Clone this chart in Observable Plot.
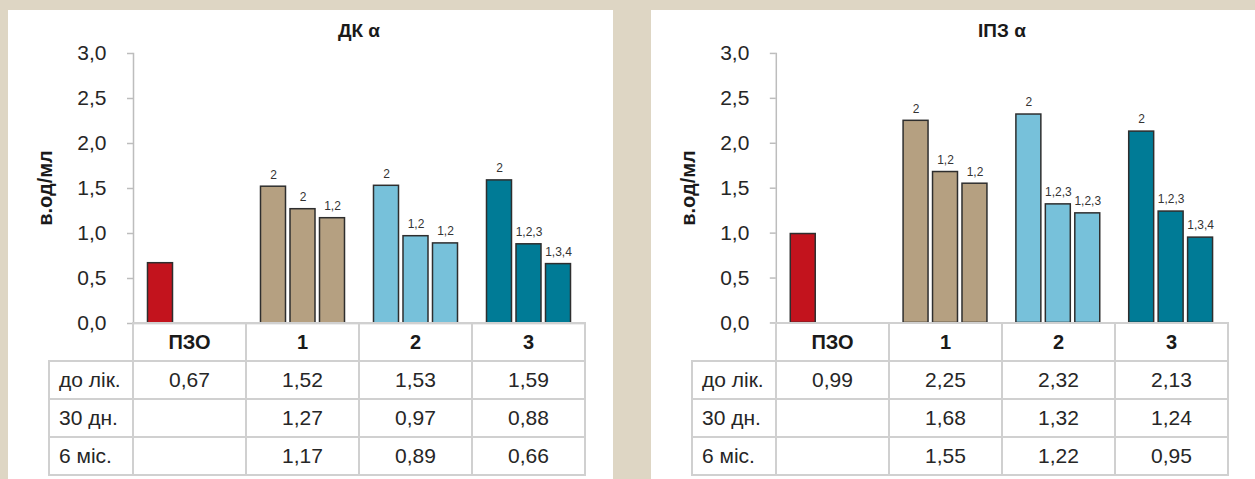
<!DOCTYPE html>
<html><head><meta charset="utf-8">
<script src="https://cdn.jsdelivr.net/npm/d3@7"></script>
<script src="https://cdn.jsdelivr.net/npm/@observablehq/plot@0.6"></script>
<style>
html,body{margin:0;padding:0;background:#ded6c4;width:1255px;height:479px;overflow:hidden;font-family:"Liberation Sans",Arial,sans-serif;}
.panel{position:absolute;top:10px;height:469px;background:#fff;overflow:hidden;}
.title{position:absolute;top:11px;text-align:center;font-weight:bold;font-size:19px;line-height:20px;color:#1a1a1a;}
.ylab{position:absolute;width:200px;height:24px;line-height:24px;text-align:center;font-weight:bold;font-size:20px;color:#1a1a1a;transform:translate(-50%,-50%) rotate(-90deg);white-space:nowrap;}
.plot{position:absolute;left:0;top:0;}
.cell{position:absolute;box-sizing:border-box;border:2px solid #d0d0d0;display:flex;align-items:center;justify-content:center;font-size:21px;color:#262626;white-space:nowrap;}
.cell.head{font-weight:bold;font-size:20px;color:#1a1a1a;}
.cell.lab{justify-content:flex-start;padding-left:9px;}
</style>
</head><body>
<script>
// ---- data ----
const categories = ["ПЗО", "1", "2", "3"];
const series = ["до лік.", "30 дн.", "6 міс."];
const colors = ["#c3131d", "#b5a081", "#77c1da", "#007b96"];
const yTicks = [0, 0.5, 1, 1.5, 2, 2.5, 3];

const dkTitle = "ДК α";
const dkBefore = [0.67, 1.52, 1.53, 1.59];
const dk30 = [null, 1.27, 0.97, 0.88];
const dk6 = [null, 1.17, 0.89, 0.66];
const dkMarksBefore = ["", "2", "2", "2"];
const dkMarks30 = ["", "2", "1,2", "1,2,3"];
const dkMarks6 = ["", "1,2", "1,2", "1,3,4"];

const ipzTitle = "ІПЗ α";
const ipzBefore = [0.99, 2.25, 2.32, 2.13];
const ipz30 = [null, 1.68, 1.32, 1.24];
const ipz6 = [null, 1.55, 1.22, 0.95];
const ipzMarksBefore = ["", "2", "2", "2"];
const ipzMarks30 = ["", "1,2", "1,2,3", "1,2,3"];
const ipzMarks6 = ["", "1,2", "1,2,3", "1,3,4"];

const yLabel = "в.од/мл";

const fmt = v => v == null ? "" : v.toFixed(2).replace(".", ",");
const fmtTick = v => v.toFixed(1).replace(".", ",");

function drawPanel(left, width, title, vals, marks) {
  const panel = document.createElement("div");
  panel.className = "panel";
  panel.style.left = left + "px";
  panel.style.width = width + "px";
  document.body.appendChild(panel);

  const rows = [];
  categories.forEach((c, i) => {
    series.forEach((s, j) => {
      const v = vals[j][i];
      if (v != null) rows.push({cat: c, series: s, value: v, mark: marks[j][i]});
    });
  });

  const plot = Plot.plot({
    width: 605, height: 315,
    marginLeft: 125, marginRight: 28, marginTop: 43, marginBottom: 2,
    style: {background: "transparent", fontFamily: "Liberation Sans, Arial, sans-serif", overflow: "visible"},
    fx: {domain: categories, padding: 0, axis: null, round: false},
    x: {domain: series, paddingInner: 0.1525, paddingOuter: 0.4915, axis: null, round: false},
    y: {domain: [0, 3], axis: null},
    color: {domain: categories, range: colors},
    marks: [
      Plot.ruleY([0], {stroke: "#bdbdbd", strokeWidth: 1.5}),
      Plot.frame({anchor: "left", stroke: "#bdbdbd", strokeWidth: 1.5, facetAnchor: "left"}),
      Plot.axisY({ticks: yTicks, tickFormat: fmtTick, tickSize: 6, tickPadding: 21,
        fontSize: 21, stroke: "#bdbdbd", strokeWidth: 1.5, fill: "#262626", label: null, facetAnchor: "left"}),
      Plot.barY(rows, {fx: "cat", x: "series", y: "value", fill: "cat", stroke: "#2e2e2e", strokeWidth: 1.5}),
      Plot.text(rows, {fx: "cat", x: "series", y: "value", text: "mark", dy: -12, fontSize: 12, fill: "#333"})
    ]
  });
  plot.classList.add("plot");
  panel.appendChild(plot);

  const fx = plot.scale("fx");
  const ys = plot.scale("y");
  const bw = fx.bandwidth;
  const x0 = fx.apply(categories[0]);
  const y0 = ys.apply(0);
  const yMid = (ys.apply(ys.domain[0]) + ys.apply(ys.domain[1])) / 2;
  const rowH = 38;
  const labLeft = 41;

  const t = document.createElement("div");
  t.className = "title";
  t.textContent = title;
  t.style.left = x0 + "px";
  t.style.width = (fx.apply(categories[categories.length - 1]) + bw - x0) + "px";
  panel.appendChild(t);

  const yl = document.createElement("div");
  yl.className = "ylab";
  yl.textContent = yLabel;
  yl.style.left = "37px";
  yl.style.top = yMid + "px";
  panel.appendChild(yl);

  function cell(x, y, w, h, text, cls) {
    const d = document.createElement("div");
    d.className = "cell" + (cls ? " " + cls : "");
    d.style.left = (x - 1) + "px";
    d.style.top = (y - 1) + "px";
    d.style.width = (w + 2) + "px";
    d.style.height = (h + 2) + "px";
    d.textContent = text;
    panel.appendChild(d);
  }
  categories.forEach(c => cell(fx.apply(c), y0, bw, rowH, c, "head"));
  series.forEach((s, j) => {
    const y = y0 + rowH * (j + 1);
    cell(labLeft, y, x0 - labLeft, rowH, s, "lab");
    categories.forEach((c, i) => cell(fx.apply(c), y, bw, rowH, fmt(vals[j][i])));
  });
}

drawPanel(8, 605, dkTitle, [dkBefore, dk30, dk6], [dkMarksBefore, dkMarks30, dkMarks6]);
drawPanel(651, 604, ipzTitle, [ipzBefore, ipz30, ipz6], [ipzMarksBefore, ipzMarks30, ipzMarks6]);
</script>
</body></html>
